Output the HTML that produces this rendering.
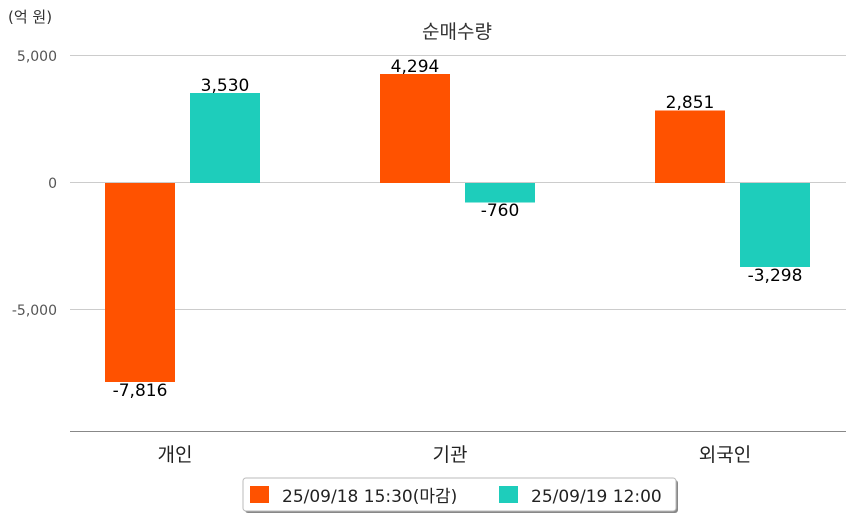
<!DOCTYPE html>
<html><head><meta charset="utf-8"><style>
body{margin:0;background:#fff}
svg{display:block;font-family:"DejaVu Sans","Noto Sans CJK KR",sans-serif}
</style></head><body>
<svg width="854" height="520" viewBox="0 0 854 520">
<rect width="854" height="520" fill="#fff"/>
<text x="8" y="22" font-size="15" fill="#333">(억 원)</text>
<text x="457" y="38" font-size="19" fill="#333" text-anchor="middle">순매수량</text>
<g stroke="#ccc" stroke-width="1">
<line x1="70" y1="55.5" x2="846" y2="55.5"/>
<line x1="70" y1="182.5" x2="846" y2="182.5"/>
<line x1="70" y1="309.5" x2="846" y2="309.5"/>
</g>
<line x1="70" y1="431.5" x2="846" y2="431.5" stroke="#888"/>
<g font-size="14" fill="#555" text-anchor="end">
<text x="57" y="61">5,000</text>
<text x="57" y="188">0</text>
<text x="57" y="315">-5,000</text>
</g>
<g fill="#ff5200">
<rect x="105" y="183" width="70" height="199"/>
<rect x="380" y="74" width="70" height="109"/>
<rect x="655" y="110.5" width="70" height="72.5"/>
</g>
<g fill="#1ecdbb">
<rect x="190" y="93" width="70" height="90"/>
<rect x="465" y="183" width="70" height="19.5"/>
<rect x="740" y="183" width="70" height="84"/>
</g>
<g font-size="17" fill="#000" text-anchor="middle">
<text x="140" y="396">-7,816</text>
<text x="225" y="91">3,530</text>
<text x="415" y="72">4,294</text>
<text x="500" y="216">-760</text>
<text x="690" y="108">2,851</text>
<text x="775" y="281">-3,298</text>
</g>
<g font-size="19" fill="#222" text-anchor="middle">
<text x="175" y="461">개인</text>
<text x="450" y="461">기관</text>
<text x="725" y="461">외국인</text>
</g>
<rect x="245" y="480" width="433" height="33" rx="3" fill="#888"/>
<rect x="243" y="478" width="433" height="33" rx="3" fill="#fff" stroke="#bbb"/>
<rect x="250" y="486" width="19" height="17" fill="#ff5200"/>
<text x="282" y="502" font-size="17" fill="#222">25/09/18 15:30(마감)</text>
<rect x="499" y="486" width="19" height="17" fill="#1ecdbb"/>
<text x="531" y="502" font-size="17" fill="#222">25/09/19 12:00</text>
</svg>
</body></html>
